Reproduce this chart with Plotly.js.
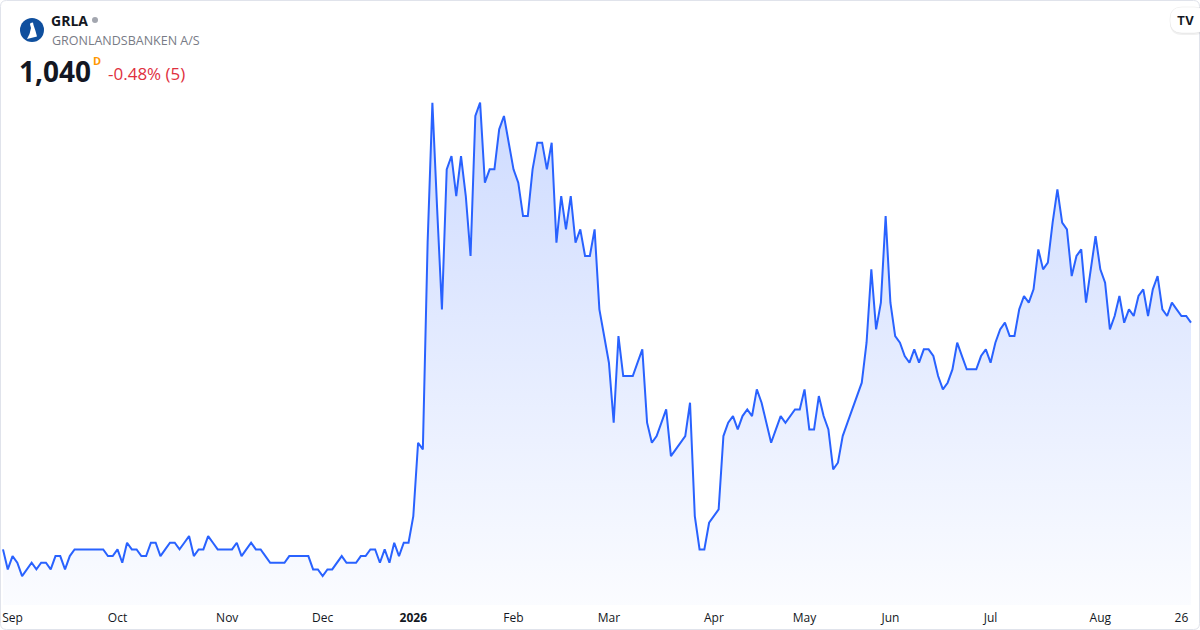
<!DOCTYPE html>
<html>
<head>
<meta charset="utf-8">
<script src="https://cdn.plot.ly/plotly-3.0.1.min.js"></script>
<style>
  html, body { margin: 0; padding: 0; background: #ffffff; }
  #chart { width: 1200px; height: 630px; }
</style>
</head>
<body>
<div id="chart"></div>
<script>
// ---- data ----
const startDate = '2025-08-28';
const endDate = '2026-08-28';
const holidays = ['2025-12-24','2025-12-25','2025-12-26','2025-12-31','2026-01-01',
  '2026-04-02','2026-04-03','2026-04-06','2026-05-14','2026-05-15','2026-05-25','2026-06-05'];

const closes = [
  870,855,865,860,850,855,860,855,860,860,
  855,865,865,855,865,870,870,870,870,870,
  870,870,865,865,870,860,875,870,870,865,
  865,875,875,865,870,875,875,870,875,880,
  865,870,870,880,875,870,870,870,870,875,
  865,870,875,870,870,865,860,860,860,860,
  865,865,865,865,865,855,855,850,855,855,
  860,865,860,860,860,865,865,870,870,860,
  870,860,875,865,875,875,895,950,945,1100,
  1205,1125,1050,1155,1165,1135,1165,1135,1090,1195,
  1205,1145,1155,1155,1185,1195,1175,1155,1145,1120,
  1120,1155,1175,1175,1155,1175,1100,1135,1110,1135,
  1100,1110,1090,1090,1110,1050,1030,1010,965,1030,
  1000,1000,1000,1010,1020,965,950,955,965,975,
  940,945,950,955,980,895,870,870,890,895,
  900,955,965,970,960,970,975,970,990,980,
  965,950,960,970,965,970,975,975,990,960,
  960,985,970,960,930,935,955,965,975,985,
  995,1025,1080,1035,1055,1120,1055,1030,1025,1015,
  1010,1020,1010,1020,1020,1015,1000,990,995,1005,
  1025,1015,1005,1005,1005,1015,1020,1010,1025,1035,
  1040,1030,1030,1050,1060,1055,1065,1095,1080,1085,
  1115,1140,1115,1110,1075,1090,1095,1055,1080,1105,
  1080,1070,1035,1045,1060,1040,1050,1045,1060,1065,
  1045,1065,1075,1050,1045,1055,1050,1045,1045,1040
];

const tickDates = ['2025-09-01','2025-10-01','2025-11-03','2025-12-01','2026-01-02','2026-02-02',
  '2026-03-02','2026-04-01','2026-05-01','2026-06-01','2026-07-01','2026-08-03','2026-08-26'];
const tickLabels = ['Sep','Oct','Nov','Dec','<b>2026</b>','Feb','Mar','Apr','May','Jun','Jul','Aug','26'];

const symbol = 'GRLA';
const company = 'GRONLANDSBANKEN A/S';
const lastPrice = '1,040';
const changeText = '-0.48% (5)';

// ---- trading dates ----
function tradingDays(a, b) {
  const out = [];
  let d = new Date(a + 'T00:00:00Z');
  const end = new Date(b + 'T00:00:00Z');
  while (d <= end) {
    const s = d.toISOString().slice(0, 10);
    const wd = d.getUTCDay();
    if (wd !== 0 && wd !== 6 && holidays.indexOf(s) < 0) out.push(s);
    d = new Date(d.getTime() + 86400000);
  }
  return out;
}
const dates = tradingDays(startDate, endDate).slice(0, closes.length);

// ---- helpers for pixel -> paper ----
const W = 1200, PLOT_B = 605;
const px = v => v / W;
const py = v => (PLOT_B - v) / PLOT_B;

const font = '"Open Sans", "Noto Sans", sans-serif';

function roundRect(x0, y0, x1, y1, r) {
  return `M ${px(x0 + r)} ${py(y0)} L ${px(x1 - r)} ${py(y0)} Q ${px(x1)} ${py(y0)} ${px(x1)} ${py(y0 + r)} ` +
         `L ${px(x1)} ${py(y1 - r)} Q ${px(x1)} ${py(y1)} ${px(x1 - r)} ${py(y1)} L ${px(x0 + r)} ${py(y1)} ` +
         `Q ${px(x0)} ${py(y1)} ${px(x0)} ${py(y1 - r)} L ${px(x0)} ${py(y0 + r)} Q ${px(x0)} ${py(y0)} ${px(x0 + r)} ${py(y0)} Z`;
}

const trace = {
  type: 'scatter',
  mode: 'lines',
  x: dates,
  y: closes,
  line: { color: '#2962ff', width: 2 },
  fill: 'tozeroy',
  fillgradient: {
    type: 'vertical',
    start: 828,
    stop: 1205,
    colorscale: [[0, 'rgba(41,98,255,0.02)'], [1, 'rgba(41,98,255,0.23)']]
  },
  hoverinfo: 'skip'
};

const layout = {
  width: 1200,
  height: 630,
  margin: { l: 0, r: 0, t: 0, b: 25 },
  paper_bgcolor: '#ffffff',
  plot_bgcolor: '#ffffff',
  showlegend: false,
  xaxis: {
    type: 'category',
    range: [-0.629, 250.89],
    showgrid: false, zeroline: false, showline: false,
    ticks: '',
    ticklabelstandoff: 4,
    tickmode: 'array',
    tickvals: tickDates,
    ticktext: tickLabels,
    tickfont: { family: font, size: 12, color: '#131722' },
    fixedrange: true
  },
  yaxis: {
    range: [828.3, 1282],
    visible: false,
    showgrid: false, zeroline: false,
    fixedrange: true
  },
  shapes: [
    // outer border
    { type: 'path', xref: 'paper', yref: 'paper', path: roundRect(0.5, 0.5, 1199.5, 629.5, 6),
      line: { color: '#e0e3eb', width: 1 }, fillcolor: 'rgba(0,0,0,0)', layer: 'above' },
    // logo circle
    { type: 'circle', xref: 'paper', yref: 'paper', x0: px(20), x1: px(44), y0: py(42), y1: py(18),
      fillcolor: '#0f4f9e', line: { width: 0 } },
    // bird silhouette (simplified)
    { type: 'path', xref: 'paper', yref: 'paper',
      path: `M ${px(30.5)} ${py(23)} L ${px(33)} ${py(22.5)} L ${px(33.5)} ${py(25)} L ${px(35.5)} ${py(31)} L ${px(37)} ${py(36.5)} L ${px(31)} ${py(38)} L ${px(27)} ${py(39)} L ${px(29.5)} ${py(34)} L ${px(31)} ${py(28)} L ${px(30)} ${py(24.5)} Z`,
      fillcolor: '#ffffff', line: { width: 0 } },
    // status dot
    { type: 'circle', xref: 'paper', yref: 'paper', x0: px(92), x1: px(98), y0: py(23), y1: py(17),
      fillcolor: '#a3a6af', line: { width: 0 } },
    // TV badge shadow
    { type: 'path', xref: 'paper', yref: 'paper', path: roundRect(1170, 9, 1206, 35, 12),
      fillcolor: 'rgba(0,0,0,0.06)', line: { width: 0 }, layer: 'above' },
    // TV badge
    { type: 'path', xref: 'paper', yref: 'paper', path: roundRect(1170, 7, 1206, 33, 12),
      fillcolor: '#ffffff', line: { color: 'rgba(0,0,0,0.05)', width: 1 }, layer: 'above' }
  ],
  annotations: [
    { xref: 'paper', yref: 'paper', x: px(49), y: py(20), xanchor: 'left', yanchor: 'middle', showarrow: false,
      text: '<b>' + symbol + '</b>', font: { family: font, size: 14, color: '#131722' } },
    { xref: 'paper', yref: 'paper', x: px(50), y: py(40), xanchor: 'left', yanchor: 'middle', showarrow: false,
      text: company, font: { family: font, size: 12.5, color: '#787b86' } },
    { xref: 'paper', yref: 'paper', x: px(17), y: py(71), xanchor: 'left', yanchor: 'middle', showarrow: false,
      text: '<b>' + lastPrice + '</b>', font: { family: font, size: 28, color: '#131722' } },
    { xref: 'paper', yref: 'paper', x: px(91), y: py(61), xanchor: 'left', yanchor: 'middle', showarrow: false,
      text: '<b>D</b>', font: { family: font, size: 11, color: '#ff9800' } },
    { xref: 'paper', yref: 'paper', x: px(106), y: py(74), xanchor: 'left', yanchor: 'middle', showarrow: false,
      text: changeText, font: { family: font, size: 17, color: '#e0303e' } },
    { xref: 'paper', yref: 'paper', x: px(1185), y: py(20), xanchor: 'center', yanchor: 'middle', showarrow: false,
      text: '<b>TV</b>', font: { family: 'Inter, "Open Sans", sans-serif', size: 12, color: '#131722' } }
  ]
};

Plotly.newPlot('chart', [trace], layout, { staticPlot: true, displayModeBar: false });
</script>
</body>
</html>
